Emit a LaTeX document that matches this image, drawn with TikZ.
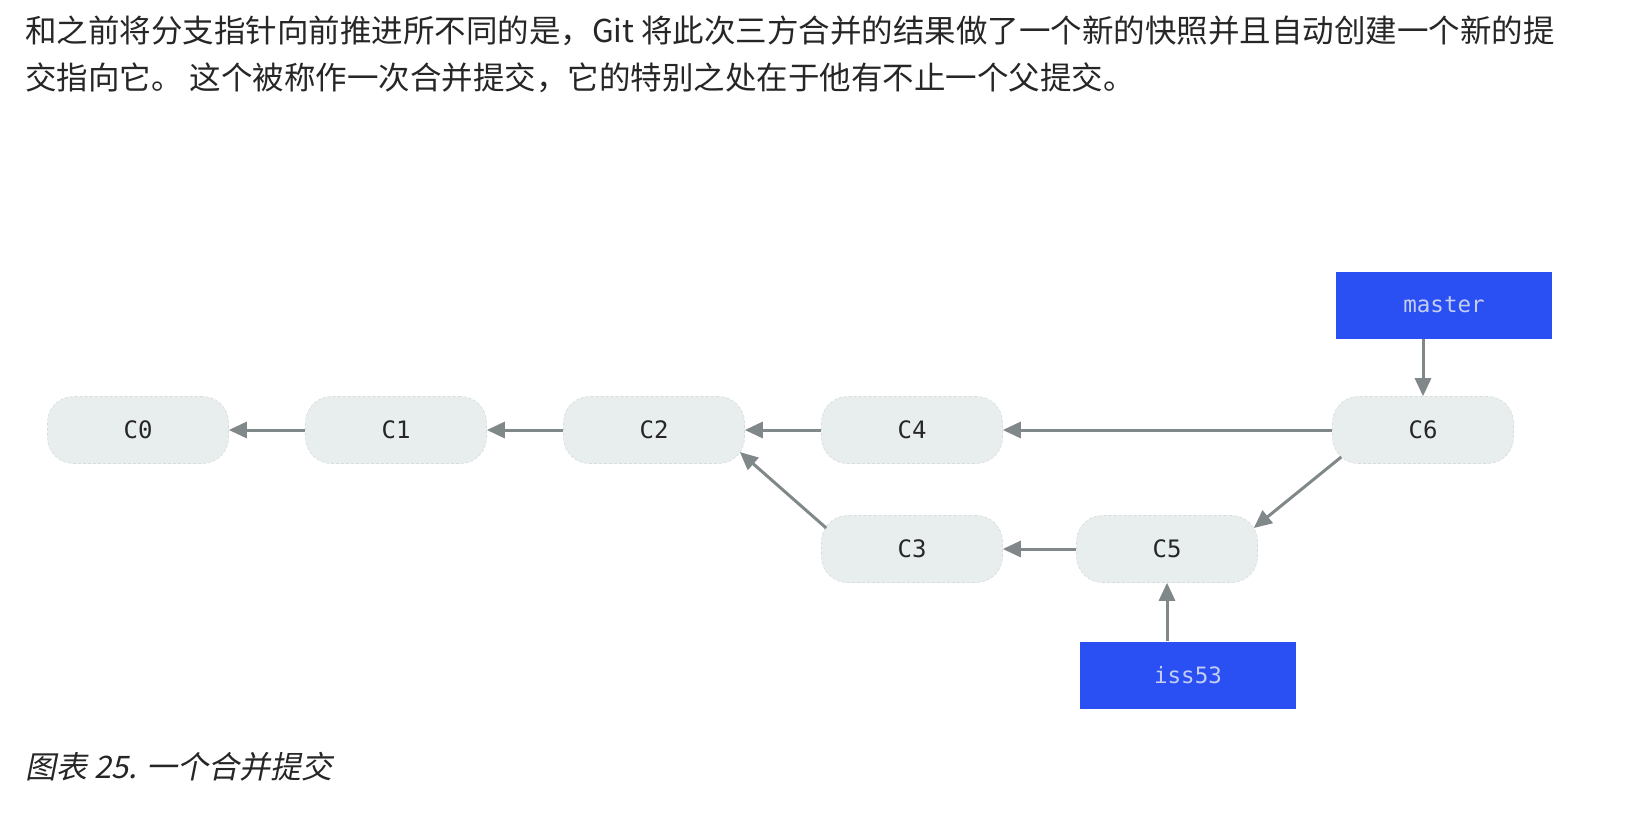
\documentclass[tikz,border=0pt]{standalone}
\usepackage{fontspec}
\setmonofont{DejaVu Sans Mono}
\newfontfamily\cjk{Noto Sans CJK SC}
\newfontfamily\cjkit{Noto Sans CJK SC}[FakeSlant=0.2]
\usetikzlibrary{arrows.meta}
\definecolor{nodefill}{HTML}{E7EEED}
\definecolor{nodeedge}{HTML}{D6DCDC}
\definecolor{arrowgray}{HTML}{80888A}
\definecolor{branchblue}{HTML}{2A4FF2}
\definecolor{branchtext}{HTML}{C4CDF2}
\definecolor{bodytext}{HTML}{262626}
\tikzset{
  commit/.style={draw=nodeedge, densely dashed, line width=0.6pt, fill=nodefill,
    rounded corners=26pt, minimum width=181pt, minimum height=67pt, inner sep=0pt,
    font=\ttfamily\fontsize{24}{24}\selectfont, text=bodytext},
  branch/.style={draw=none, fill=branchblue, minimum width=216pt, minimum height=67pt,
    inner sep=0pt, font=\ttfamily\fontsize{22.5}{22.5}\selectfont, text=branchtext},
  parent/.style={draw=arrowgray, line width=3pt, -{Triangle[length=18pt,width=16pt]}},
  para/.style={anchor=base west, inner sep=0pt, text=bodytext, font=\cjk\fontsize{31.5}{31.5}\selectfont},
  captiontext/.style={anchor=base west, inner sep=0pt, text=bodytext, font=\cjkit\fontsize{31}{31}\selectfont}
}
\begin{document}
\begin{tikzpicture}[x=1pt,y=-1pt]
\useasboundingbox (0,0) rectangle (1630,812);
\node[para] (t1) at (25,42) {和之前将分支指针向前推进所不同的是，Git 将此次三方合并的结果做了一个新的快照并且自动创建一个新的提};
\node[para] (t2) at (25,89) {交指向它。 这个被称作一次合并提交，它的特别之处在于他有不止一个父提交。};
\node[captiontext] (figcap) at (25,778) {图表 25. 一个合并提交};

\node[commit] (C0) at (138,430) {C0};
\node[commit] (C1) at (396,430) {C1};
\node[commit] (C2) at (654,430) {C2};
\node[commit] (C4) at (912,430) {C4};
\node[commit] (C6) at (1423,430) {C6};
\node[commit] (C3) at (912,549) {C3};
\node[commit] (C5) at (1167,549) {C5};
\node[branch] (master) at (1444,305) {master};
\node[branch] (iss53) at (1188,675) {iss53};

\draw[parent] (C1.west) -- (C0.east);
\draw[parent] (C2.west) -- (C1.east);
\draw[parent] (C4.west) -- (C2.east);
\draw[parent] (C6.west) -- (C4.east);
\draw[parent] (C5.west) -- (C3.east);
\draw[parent] ([shift={(5,-21)}]C3.west) -- ([shift={(-5,22)}]C2.east);
\draw[parent] ([shift={(9,27)}]C6.west) -- ([shift={(-4,-21)}]C5.east);
\draw[parent] (master.south -| C6.north) -- (C6.north);
\draw[parent] (iss53.north -| C5.south) -- (C5.south);
\end{tikzpicture}
\end{document}
